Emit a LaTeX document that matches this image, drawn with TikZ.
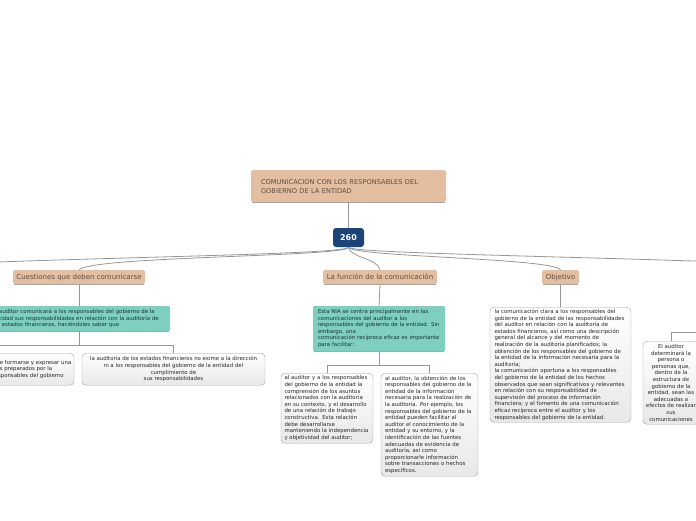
\documentclass[tikz,border=0pt]{standalone}
\usepackage{fontspec}
\setsansfont{DejaVu Sans}
\definecolor{tanbox}{RGB}{227,190,160}
\definecolor{tantext}{RGB}{96,78,66}
\definecolor{tealbox}{RGB}{126,207,192}
\definecolor{tealtext}{RGB}{24,52,50}
\definecolor{darkblue}{RGB}{27,68,120}
\definecolor{linkgray}{RGB}{150,150,150}
\definecolor{boxtext}{RGB}{40,40,40}

\begin{document}
\begin{tikzpicture}[x=1pt,y=-1pt,
  topic/.style={fill=tanbox,text=tantext,rounded corners=1.5pt,inner sep=0pt,anchor=north,
    minimum height=14pt,font=\sffamily\fontsize{7}{9}\selectfont},
  note/.style={fill=tealbox,text=tealtext,rounded corners=1pt,inner sep=0pt,anchor=north,
    align=left,font=\sffamily\fontsize{5.4}{6.5}\selectfont},
  leaf/.style={draw=gray!75,top color=white,bottom color=gray!18,rounded corners=4pt,
    text=boxtext,inner sep=0pt,anchor=north,font=\sffamily\fontsize{5.4}{6.6}\selectfont},
  link/.style={draw=linkgray,line width=0.8pt},
  base/.style={draw=gray!70,line width=0.8pt}]
  \useasboundingbox (0,0) rectangle (696,520);
  \clip (0,0) rectangle (696,520);

  % central topic
  \node[topic,minimum width=195pt,minimum height=32pt,text width=175pt,align=left,
    font=\sffamily\fontsize{6.7}{9}\selectfont] (title) at (348.5,170)
    {COMUNICACION CON LOS RESPONSABLES DEL\\GOBIERNO DE LA ENTIDAD};
  \node[fill=darkblue,text=white,rounded corners=3pt,minimum width=31pt,minimum height=19pt,
    inner sep=0pt,font=\sffamily\bfseries\fontsize{8}{9}\selectfont] (num) at (348.5,237.5) {260};

  % main branches
  \node[topic,minimum width=132pt] (cuest) at (79,270) {Cuestiones que deben comunicarse};
  \node[topic,minimum width=114pt] (funcion) at (380,270) {La función de la comunicación};
  \node[topic,minimum width=37pt] (objetivo) at (560.5,270) {Objetivo};
  \coordinate (leftend) at (-200,275);
  \coordinate (rightend) at (950,275);

  % cuestiones
  \node[note,minimum width=182pt,minimum height=25pt,text width=173pt] (resp) at (79,306)
    {El auditor comunicará a los responsables del gobierno de la\\
     entidad sus responsabilidades en relación con la auditoría de\\
     los estados financieros, haciéndoles saber que};
  \node[leaf,minimum width=162pt,minimum height=32pt,align=center] (opin) at (-7,353)
    {que el auditor es responsable de formarse y expresar una\\
     opinión sobre los estados preparados por la\\
     bajo la supervisión de los responsables del gobierno};
  \node[leaf,minimum width=183pt,minimum height=32pt,align=center] (exime) at (173.5,353)
    {la auditoría de los estados financieros no exime a la dirección\\
     ni a los responsables del gobierno de la entidad del\\
     cumplimiento de\\
     sus responsabilidades};
  \coordinate (fork1) at (79,345);

  % funcion
  \node[note,minimum width=132pt,minimum height=45pt,text width=122pt] (facil) at (379,306)
    {Esta NIA se centra principalmente en las\\
     comunicaciones del auditor a los\\
     responsables del gobierno de la entidad. Sin\\
     embargo, una\\
     comunicación recíproca eficaz es importante\\
     para facilitar:};
  \node[leaf,minimum width=92pt,minimum height=70pt,text width=85pt,align=left] (aux1) at (327,373)
    {al auditor y a los responsables\\
     del gobierno de la entidad la\\
     comprensión de los asuntos\\
     relacionados con la auditoría\\
     en su contexto, y el desarrollo\\
     de una relación de trabajo\\
     constructiva. Esta relación\\
     debe desarrollarse\\
     manteniendo la independencia\\
     y objetividad del auditor;};
  \node[leaf,minimum width=97pt,minimum height=103pt,text width=89pt,align=left] (aux2) at (429.5,373)
    {al auditor, la obtención de los\\
     responsables del gobierno de la\\
     entidad de la información\\
     necesaria para la realización de\\
     la auditoría. Por ejemplo, los\\
     responsables del gobierno de la\\
     entidad pueden facilitar al\\
     auditor el conocimiento de la\\
     entidad y su entorno, y la\\
     identificación de las fuentes\\
     adecuadas de evidencia de\\
     auditoría, así como\\
     proporcionarle información\\
     sobre transacciones o hechos\\
     específicos.};
  \coordinate (fork2) at (379,365);

  % objetivo
  \node[leaf,minimum width=141pt,minimum height=115pt,text width=132pt,align=left] (claro) at (560.5,307)
    {la comunicación clara a los responsables del\\
     gobierno de la entidad de las responsabilidades\\
     del auditor en relación con la auditoría de\\
     estados financieros, así como una descripción\\
     general del alcance y del momento de\\
     realización de la auditoría planificados; la\\
     obtención de los responsables del gobierno de\\
     la entidad de la información necesaria para la\\
     auditoría;\\
     la comunicación oportuna a los responsables\\
     del gobierno de la entidad de los hechos\\
     observados que sean significativos y relevantes\\
     en relación con su responsabilidad de\\
     supervisión del proceso de información\\
     financiera; y el fomento de una comunicación\\
     eficaz recíproca entre el auditor y los\\
     responsables del gobierno de la entidad.};

  % right edge
  \node[leaf,minimum width=56pt,minimum height=83pt,align=center] (persona) at (671,341)
    {El auditor\\ determinará la\\ persona o\\ personas que,\\ dentro de la\\ estructura de\\
     gobierno de la\\ entidad, sean las\\ adecuadas a\\ efectos de realizar\\ sus\\ comunicaciones};
  \coordinate (rfork) at (730,332);

  \foreach \n in {title,cuest,funcion,objetivo,resp,facil}
    \draw[base] ([xshift=1pt]\n.south west) -- ([xshift=-1pt]\n.south east);

  % connectors
  \draw[link] (title.south) -- (num.north);
  \draw[link] (num.south) .. controls (348,257) and (-100,258) .. (leftend);
  \draw[link] (num.south) .. controls (348,257) and (90,256) .. (cuest.north);
  \draw[link] (num.south) .. controls (350,258) and (378,258) .. (funcion.north);
  \draw[link] (num.south) .. controls (352,257) and (555,258) .. (objetivo.north);
  \draw[link] (num.south) .. controls (352,256) and (800,258) .. (rightend);
  \draw[link] (cuest.south) -- (resp.north);
  \draw[link] (resp.south) -- (fork1) -| (opin.north);
  \draw[link] (fork1) -| (exime.north);
  \draw[link] (funcion.south) -- (facil.north);
  \draw[link] (facil.south) -- (fork2) -| (aux1.north);
  \draw[link] (fork2) -| (aux2.north);
  \draw[link] (objetivo.south) -- (claro.north);
  \draw[link] (rfork) -| (persona.north);
\end{tikzpicture}
\end{document}
